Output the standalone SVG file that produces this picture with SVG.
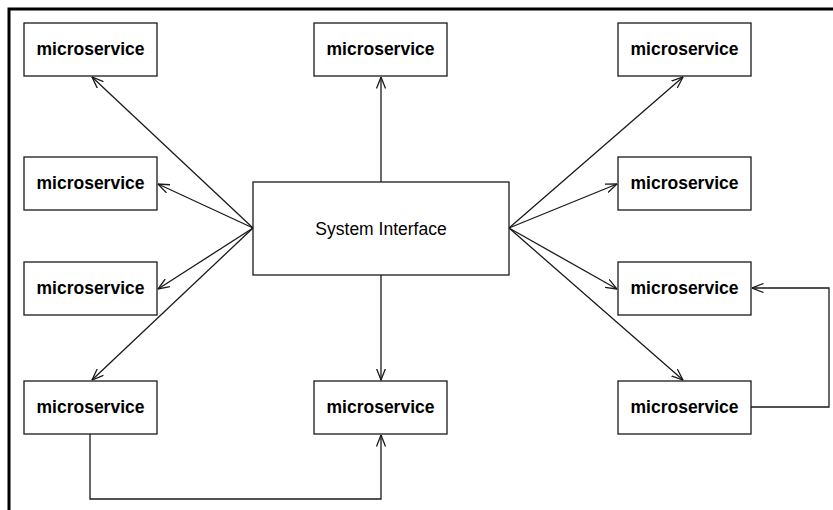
<svg xmlns="http://www.w3.org/2000/svg" width="833" height="510" viewBox="0 0 833 510">
<style>
.box{fill:#fff;stroke:#1a1a1a;stroke-width:1.3}
.ms{font-family:"Liberation Sans",Arial,sans-serif;font-weight:bold;font-size:17.5px;fill:#000;text-anchor:middle}
.si{font-family:"Liberation Sans",Arial,sans-serif;font-size:17.5px;fill:#000;text-anchor:middle}
.c{fill:none;stroke:#1a1a1a;stroke-width:1.3;marker-end:url(#ah)}
.frame{fill:none;stroke:#000;stroke-width:3}
</style>
<defs>
<marker id="ah" viewBox="0 0 12 10" refX="11.5" refY="5" markerWidth="12" markerHeight="10" markerUnits="userSpaceOnUse" orient="auto">
<path d="M0,0.5 L11.5,5 L0,9.5" fill="none" stroke="#1a1a1a" stroke-width="1.3"/>
</marker>
</defs>
<path class="frame" d="M9,510 V9 H833"/>
<g id="connectors">
<line class="c" x1="253" y1="228" x2="92" y2="77"/>
<line class="c" x1="253" y1="228" x2="158" y2="184"/>
<line class="c" x1="253" y1="228" x2="158" y2="289"/>
<line class="c" x1="253" y1="228" x2="92" y2="380"/>
<line class="c" x1="381" y1="182" x2="381" y2="77"/>
<line class="c" x1="381" y1="275" x2="381" y2="380"/>
<line class="c" x1="509" y1="228" x2="683" y2="77"/>
<line class="c" x1="509" y1="228" x2="617" y2="184"/>
<line class="c" x1="509" y1="228" x2="617" y2="289"/>
<line class="c" x1="509" y1="228" x2="683" y2="380"/>
<path class="c" d="M751,407 H829 V288 H752"/>
<path class="c" d="M90,434 V499 H381 V435"/>
</g>
<g id="system-interface"><rect class="box" x="253" y="182" width="256" height="93"/><text class="si" x="381" y="235">System Interface</text></g>
<g id="ms-1-1"><rect class="box" x="24" y="23" width="133" height="53"/><text class="ms" x="90.5" y="55">microservice</text></g>
<g id="ms-1-2"><rect class="box" x="314" y="23" width="133" height="53"/><text class="ms" x="380.5" y="55">microservice</text></g>
<g id="ms-1-3"><rect class="box" x="618" y="23" width="133" height="53"/><text class="ms" x="684.5" y="55">microservice</text></g>
<g id="ms-2-1"><rect class="box" x="24" y="157" width="133" height="53"/><text class="ms" x="90.5" y="189">microservice</text></g>
<g id="ms-2-3"><rect class="box" x="618" y="157" width="133" height="53"/><text class="ms" x="684.5" y="189">microservice</text></g>
<g id="ms-3-1"><rect class="box" x="24" y="262" width="133" height="53"/><text class="ms" x="90.5" y="294">microservice</text></g>
<g id="ms-3-3"><rect class="box" x="618" y="262" width="133" height="53"/><text class="ms" x="684.5" y="294">microservice</text></g>
<g id="ms-4-1"><rect class="box" x="24" y="381" width="133" height="53"/><text class="ms" x="90.5" y="413">microservice</text></g>
<g id="ms-4-2"><rect class="box" x="314" y="381" width="133" height="53"/><text class="ms" x="380.5" y="413">microservice</text></g>
<g id="ms-4-3"><rect class="box" x="618" y="381" width="133" height="53"/><text class="ms" x="684.5" y="413">microservice</text></g>
</svg>
